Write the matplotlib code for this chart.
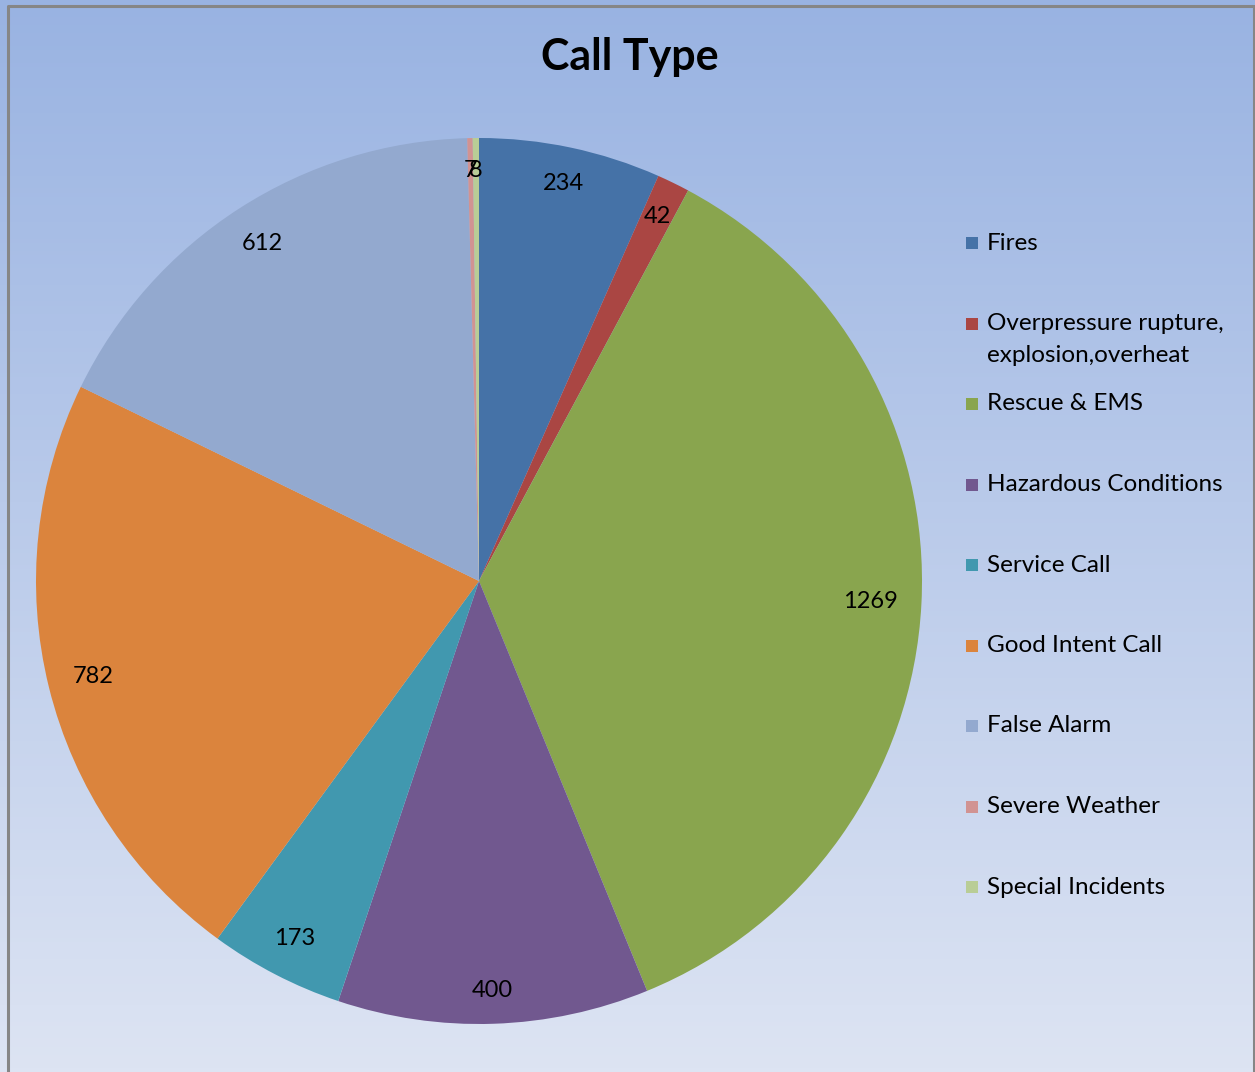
import numpy as np
import matplotlib
matplotlib.use("Agg")
import matplotlib.pyplot as plt
from matplotlib.patches import Rectangle
from matplotlib.colors import LinearSegmentedColormap

categories = ["Fires", "Overpressure rupture,\nexplosion,overheat", "Rescue & EMS",
              "Hazardous Conditions", "Service Call", "Good Intent Call",
              "False Alarm", "Severe Weather", "Special Incidents"]
values = [234, 42, 1269, 400, 173, 782, 612, 7, 8]
colors = ["#4572A7", "#AA4643", "#89A54E", "#71588F", "#4198AF",
          "#DB843D", "#93A9CF", "#D19392", "#B9CD96"]
title = "Call Type"

W, H = 1255, 1072
fig = plt.figure(figsize=(W / 100, H / 100), dpi=100)
font = "Lato"

# background gradient
bg = fig.add_axes([0, 0, 1, 1])
cmap = LinearSegmentedColormap.from_list("bg", ["#99B3E2", "#DDE4F3"])
grad = np.linspace(0, 1, 256).reshape(-1, 1)
bg.imshow(grad, aspect="auto", cmap=cmap, extent=[0, W, H, 0])
bg.set_xlim(0, W); bg.set_ylim(H, 0)
bg.axis("off")
# border
bg.plot([7.5, 7.5, 1253.5, 1253.5], [H, 5.5, 5.5, H], color="#868686", lw=2.2)

# pie
cx, cy, r = 479, 581, 443
ax = fig.add_axes([(cx - r) / W, 1 - (cy + r) / H, 2 * r / W, 2 * r / H])
wedges, texts = ax.pie(values, colors=colors, startangle=90, counterclock=False,
                       labels=[str(v) for v in values], labeldistance=0.9,
                       textprops=dict(fontsize=17, family=font, color="black"),
                       wedgeprops=dict(linewidth=0))
ax.set_xlim(-1, 1); ax.set_ylim(-1, 1)
ax.set_aspect("equal")
ax.axis("off")

# place labels "inside end": keep each label box just inside the rim
fig.canvas.draw()
renderer = fig.canvas.get_renderer()
for w, t in zip(wedges, texts):
    t.set_ha("center"); t.set_va("center")
    ang = np.deg2rad((w.theta1 + w.theta2) / 2)
    bb = t.get_window_extent(renderer)
    hw = bb.width / 2 / r
    hh = bb.height / 2 / r * 0.9
    d = 0.948 - (abs(np.cos(ang)) * hw + abs(np.sin(ang)) * hh)
    t.set_position((d * np.cos(ang), d * np.sin(ang)))

fig.text(630 / W, 1 - 57 / H, title, ha="center", va="center",
         fontsize=31, fontweight="bold", family=font)

# legend
y0, dy = 243, 80.5
for i, (lab, col) in enumerate(zip(categories, colors)):
    y = y0 + i * dy
    bg.add_patch(Rectangle((966, y - 6), 12, 12, facecolor=col, edgecolor="none"))
    if "\n" in lab:
        bg.text(987, y - 10, lab, ha="left", va="top", fontsize=17.5,
                family=font, linespacing=1.62)
    else:
        bg.text(987, y, lab, ha="left", va="center", fontsize=17.5, family=font)

fig.savefig("out.png", dpi=100)
